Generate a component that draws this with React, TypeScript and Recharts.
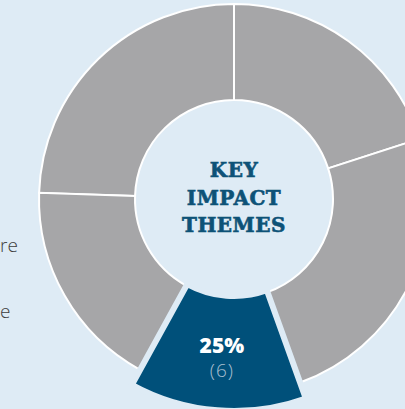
import { Cell, Pie, PieChart } from "recharts";

// share of the ring taken by each theme
const themes = ["Theme 1", "Theme 2", "Theme 3", "Theme 4", "Theme 5"];
const shares = [20, 24.5, 17.5, 13.5, 24.5];
const highlight = 3;
const highlightPct = "25%";
const highlightCount = "(6)";

const data = themes.map((name, i) => ({ name, value: shares[i] }));

const bg = "#deebf5";
const grey = "#a6a6a8";
const navy = "#00507a";
const RADIAN = Math.PI / 180;

function HighlightLabel(props: any) {
  const { cx, cy, midAngle, innerRadius, outerRadius, index } = props;
  if (index !== highlight) return null;
  const r = (innerRadius + outerRadius) / 2;
  const x = cx + r * Math.cos(-midAngle * RADIAN);
  const y = cy + r * Math.sin(-midAngle * RADIAN);
  return (
    <g>
      <text x={x} y={y} textAnchor="middle" fill="#fff" fontFamily="'Open Sans'" fontWeight={800} fontSize={21}>
        {highlightPct}
      </text>
      <text x={x} y={y + 24} textAnchor="middle" fill="#a9bfd0" fontFamily="'Open Sans'" fontWeight={300} fontSize={19} letterSpacing={1}>
        {highlightCount}
      </text>
    </g>
  );
}

const sideText = { position: "absolute" as const, left: 0, fontFamily: "'Open Sans'", fontWeight: 300, fontSize: 19, color: "#3d3d3d", lineHeight: "20px" };

export default function App() {
  return (
    <div style={{ position: "relative", width: 405, height: 409, background: bg, overflow: "hidden" }}>
      <style>{"body{margin:0}"}</style>
      <div style={{ ...sideText, top: 235 }}>re</div>
      <div style={{ ...sideText, top: 301 }}>e</div>
      <PieChart width={405} height={409} margin={{ top: 0, right: 0, bottom: 0, left: 0 }}>
        <Pie
          data={data}
          dataKey="value"
          nameKey="name"
          cx={234}
          cy={199}
          innerRadius={99}
          outerRadius={195}
          startAngle={18}
          endAngle={378}
          stroke="#fff"
          strokeWidth={2}
          isAnimationActive={false}
        >
          {data.map((d, i) => (
            <Cell key={d.name} fill={i === highlight ? bg : grey} stroke={i === highlight ? "none" : "#fff"} />
          ))}
        </Pie>
        <Pie
          data={data}
          dataKey="value"
          nameKey="name"
          cx={234}
          cy={199}
          innerRadius={97}
          outerRadius={212}
          startAngle={18}
          endAngle={378}
          label={HighlightLabel}
          labelLine={false}
          isAnimationActive={false}
        >
          {data.map((d, i) => (
            <Cell
              key={d.name}
              fill={i === highlight ? navy : "none"}
              stroke={i === highlight ? bg : "none"}
              strokeWidth={6}
            />
          ))}
        </Pie>
      </PieChart>
      <div
        style={{
          position: "absolute",
          left: 154,
          top: 157,
          width: 160,
          textAlign: "center",
          fontFamily: "'DejaVu Serif'",
          fontWeight: 700,
          fontSize: 20,
          lineHeight: "27.5px",
          letterSpacing: 0.5,
          color: "#0d5277",
          WebkitTextStroke: "0.6px #0d5277",
        }}
      >
        KEY
        <br />
        IMPACT
        <br />
        THEMES
      </div>
    </div>
  );
}
